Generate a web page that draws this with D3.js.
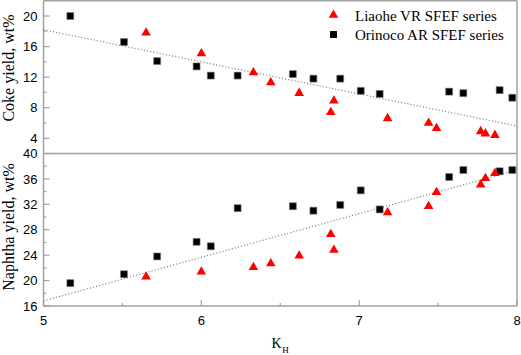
<!DOCTYPE html>
<html>
<head>
<meta charset="utf-8">
<script src="https://cdn.jsdelivr.net/npm/d3@7"></script>
<style>
  body { margin: 0; background: #fff; }
  svg { display: block; }
</style>
</head>
<body>
<div id="chart"></div>
<script>
// Liaohe VR SFEF series (red triangles)
var liaoheKH      = [5.65, 6.00, 6.33, 6.44, 6.62, 6.82, 6.84, 7.18, 7.44, 7.49, 7.77, 7.80, 7.86];
var liaoheCoke    = [17.8, 15.1, 12.6, 11.3, 9.9, 7.4, 8.9, 6.6, 6.0, 5.3, 4.9, 4.6, 4.4];
var liaoheNaphtha = [20.6, 21.4, 22.1, 22.7, 23.9, 27.3, 24.8, 30.7, 31.7, 33.9, 35.1, 36.1, 36.9];

// Orinoco AR SFEF series (black squares)
var orinocoKH      = [5.17, 5.51, 5.72, 5.97, 6.06, 6.23, 6.58, 6.71, 6.88, 7.01, 7.13, 7.57, 7.66, 7.89, 7.97];
var orinocoCoke    = [20.0, 16.6, 14.1, 13.4, 12.2, 12.2, 12.4, 11.8, 11.8, 10.2, 9.8, 10.1, 9.9, 10.3, 9.3];
var orinocoNaphtha = [19.6, 21.0, 23.8, 26.1, 25.4, 31.4, 31.7, 31.0, 31.9, 34.2, 31.2, 36.3, 37.4, 37.2, 37.4];

// fitted trend lines (end points)
var cokeTrend    = [[5, 18.2], [8, 5.6]];
var naphthaTrend = [[5, 16.8], [8, 37.4]];

// ticks
var xTicks = [5, 6, 7, 8];
var xMinor = [5.5, 6.5, 7.5];
var cokeTicks = [4, 8, 12, 16, 20];
var cokeMinor = [6, 10, 14, 18];
var naphthaTicks = [16, 20, 24, 28, 32, 36, 40];
var naphthaMinor = [18, 22, 26, 30, 34, 38];

var legendLabels = ["Liaohe VR SFEF series", "Orinoco AR SFEF series"];

var width = 521, height = 355;
var axisColor = "#a0a0a0";

var svg = d3.select("#chart").append("svg")
    .attr("width", width)
    .attr("height", height);

var x = d3.scaleLinear().domain([5, 8]).range([43.5, 517]);
var yTop = d3.scaleLinear().domain([2, 22]).range([153.5, 0.75]);
var yBot = d3.scaleLinear().domain([16, 40]).range([306, 153.5]);

var triangle = d3.symbol().type(d3.symbolTriangle).size(40);
var square = d3.symbol().type(d3.symbolSquare).size(48);

function drawPanel(y, ticks, minor, redY, blackY, trend, showTop) {
    var g = svg.append("g");

    // frame
    g.append("line").attr("x1", x(5)).attr("x2", x(5))
        .attr("y1", y.range()[0]).attr("y2", y.range()[1])
        .attr("stroke", axisColor).attr("stroke-width", 1.5);
    g.append("line").attr("x1", x(8)).attr("x2", x(8))
        .attr("y1", y.range()[0]).attr("y2", y.range()[1])
        .attr("stroke", axisColor).attr("stroke-width", 1.5);
    g.append("line").attr("x1", x(5)).attr("x2", x(8))
        .attr("y1", y.range()[0]).attr("y2", y.range()[0])
        .attr("stroke", axisColor).attr("stroke-width", 1.5);
    if (showTop) {
        g.append("line").attr("x1", x(5)).attr("x2", x(8))
            .attr("y1", y.range()[1]).attr("y2", y.range()[1])
            .attr("stroke", axisColor).attr("stroke-width", 1.5);
    }

    // y ticks (inward)
    g.selectAll(".major").data(ticks).enter().append("line")
        .attr("x1", x(5)).attr("x2", x(5) + 6)
        .attr("y1", d => y(d)).attr("y2", d => y(d))
        .attr("stroke", axisColor).attr("stroke-width", 1.2);
    g.selectAll(".minor").data(minor).enter().append("line")
        .attr("x1", x(5)).attr("x2", x(5) + 3)
        .attr("y1", d => y(d)).attr("y2", d => y(d))
        .attr("stroke", axisColor).attr("stroke-width", 1.2);
    g.selectAll(".lbl").data(ticks).enter().append("text")
        .attr("x", 37.5).attr("y", d => y(d))
        .attr("dy", "0.36em")
        .attr("text-anchor", "end")
        .attr("font-family", "Liberation Sans, Arial, sans-serif")
        .attr("font-size", 13)
        .text(d => d);

    // trend line
    g.append("path")
        .attr("d", d3.line().x(d => x(d[0])).y(d => y(d[1]))(trend))
        .attr("fill", "none")
        .attr("stroke", "#888")
        .attr("stroke-width", 1.2)
        .attr("stroke-dasharray", "1.2,2");

    // points
    g.selectAll(".sq").data(orinocoKH).enter().append("path")
        .attr("d", square)
        .attr("transform", (d, i) => `translate(${x(d)},${y(blackY[i])})`)
        .attr("fill", "#000")
        .attr("stroke", "#777").attr("stroke-width", 0.6);
    g.selectAll(".tri").data(liaoheKH).enter().append("path")
        .attr("d", triangle)
        .attr("transform", (d, i) => `translate(${x(d)},${y(redY[i])})`)
        .attr("fill", "#ff0000");
}

drawPanel(yTop, cokeTicks, cokeMinor, liaoheCoke, orinocoCoke, cokeTrend, true);
drawPanel(yBot, naphthaTicks, naphthaMinor, liaoheNaphtha, orinocoNaphtha, naphthaTrend, false);

// x axis ticks
svg.selectAll(".xt").data(xTicks).enter().append("line")
    .attr("x1", d => x(d)).attr("x2", d => x(d))
    .attr("y1", yBot(16)).attr("y2", yBot(16) - 6)
    .attr("stroke", axisColor).attr("stroke-width", 1.2);
svg.selectAll(".xm").data(xMinor).enter().append("line")
    .attr("x1", d => x(d)).attr("x2", d => x(d))
    .attr("y1", yBot(16)).attr("y2", yBot(16) - 3)
    .attr("stroke", axisColor).attr("stroke-width", 1.2);
svg.selectAll(".xl").data(xTicks).enter().append("text")
    .attr("x", d => x(d)).attr("y", 324.5)
    .attr("text-anchor", "middle")
    .attr("font-family", "Liberation Sans, Arial, sans-serif")
    .attr("font-size", 13)
    .text(d => d);

// axis titles
var kh = svg.append("text")
    .attr("x", 271.5).attr("y", 348)
    .attr("font-family", "Liberation Serif, Times New Roman, serif")
    .attr("font-size", 14);
kh.append("tspan").text("K");
kh.append("tspan").attr("dy", 5).attr("dx", 0.5).attr("font-size", 9).text("H");

svg.append("text")
    .attr("transform", "translate(13.5,68) rotate(-90)")
    .attr("text-anchor", "middle")
    .attr("font-family", "Liberation Serif, Times New Roman, serif")
    .attr("font-size", 16)
    .text("Coke yield, wt%");

svg.append("text")
    .attr("transform", "translate(13.5,227) rotate(-90)")
    .attr("text-anchor", "middle")
    .attr("font-family", "Liberation Serif, Times New Roman, serif")
    .attr("font-size", 16)
    .text("Naphtha yield, wt%");

// legend
var legend = svg.append("g");
legend.append("path").attr("d", triangle)
    .attr("transform", "translate(333.5,15)")
    .attr("fill", "#ff0000");
legend.append("path").attr("d", square)
    .attr("transform", "translate(333.5,34.5)")
    .attr("fill", "#000");
legend.selectAll("text").data(legendLabels).enter().append("text")
    .attr("x", 355).attr("y", (d, i) => 20.5 + i * 19.3)
    .attr("font-family", "Liberation Serif, Times New Roman, serif")
    .attr("font-size", 15)
    .text(d => d);
</script>
</body>
</html>
